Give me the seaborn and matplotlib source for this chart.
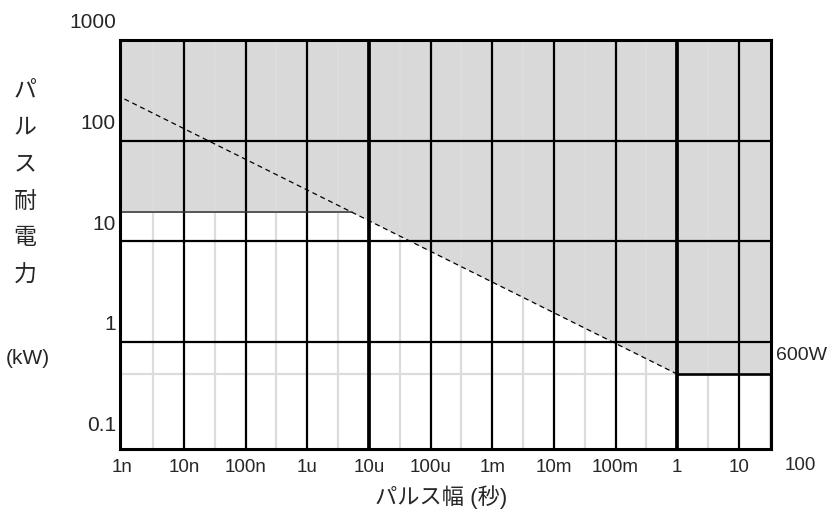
"""
Pulse power rating chart: pulse width vs. withstand power, log-log.
"""

import matplotlib.pyplot as plt
import matplotlib.transforms as mtransforms
import numpy as np
import seaborn as sns

# x axis: pulse width decades (s)
width_ticks = [1e-9, 1e-8, 1e-7, 1e-6, 1e-5, 1e-4, 1e-3, 1e-2, 1e-1, 1, 10]
width_labels = ["1n", "10n", "100n", "1u", "10u", "100u", "1m", "10m", "100m", "1", "10"]
width_extra = 100
width_extra_label = "100"
width_halfdecades = [10 ** (k + 0.5) for k in range(-9, 2)]
width_heavy = [1e-5, 1]

# y axis: pulse power (kW)
power_ticks = [0.1, 1, 10, 100, 1000]
power_labels = ["0.1", "1", "10", "100", "1000"]
power_grid = [1, 10, 100]

# rated pulse power line (dashed) and limits
line_width = [1.09e-9, 1.0]
line_power = [259, 0.477]
short_pulse_limit = 19.3
long_pulse_limit = 0.477
long_pulse_label = "600W"
fill_start = 9e-10

ylabel_chars = ["パ", "ル", "ス", "耐", "電", "力"]
ylabel_unit = "(kW)"
xlabel_text = "パルス幅 (秒)"

sns.set_style("white")
plt.rcParams['font.family'] = ['Liberation Sans', 'Noto Sans CJK JP']

fig = plt.figure(figsize=(8.28, 5.13), dpi=100)
ax = fig.add_axes([120 / 828, 1 - 449 / 513, 651 / 828, 409 / 513])
ax.set_xscale('log')
ax.set_yscale('log')
xmin, xmax = 10 ** -9.035, 10 ** 1.52
ax.set_xlim(xmin, xmax)
ax.set_ylim(0.086, 1000)

# gray (over-rated) region above the safe operating boundary
lx = np.log10(line_width)
ly = np.log10(line_power)
slope = (ly[1] - ly[0]) / (lx[1] - lx[0])
x_cross = 10 ** (lx[0] + (np.log10(short_pulse_limit) - ly[0]) / slope)
safe_x = [fill_start, x_cross, line_width[1], line_width[1], xmax]
safe_y = [short_pulse_limit, short_pulse_limit, long_pulse_limit, long_pulse_limit, long_pulse_limit]
ax.fill_between(safe_x, safe_y, 1000, color='#d9d9d9', lw=0, zorder=0.5)

# grid lines
for x in width_halfdecades:
    ax.axvline(x, color='#dcdcdc', lw=1.6, zorder=1)
ax.plot([xmin, 1], [long_pulse_limit, long_pulse_limit], color='#dcdcdc', lw=1.6, zorder=1)
for x in width_ticks[1:]:
    ax.axvline(x, color='black', lw=2.7 if x in width_heavy else 1.6, zorder=2)
for y in power_grid:
    ax.axhline(y, color='black', lw=1.6, zorder=2)

# limits
ax.plot([fill_start, x_cross], [short_pulse_limit, short_pulse_limit], color='#333333', lw=1.1, zorder=2.5)
ax.plot([1, xmax], [long_pulse_limit, long_pulse_limit], color='black', lw=1.9, zorder=2.5)
sns.lineplot(x=line_width, y=line_power, ax=ax, color='black', lw=0.9,
             linestyle=(0, (4, 3)), zorder=3)

for side in ax.spines.values():
    side.set_color('black')
    side.set_linewidth(2.2)
    side.set_zorder(4)

# tick labels (power labels sit slightly above their grid lines)
ax.set_xticks(width_ticks)
ax.set_xticklabels(width_labels, fontsize=13.5)
ax.set_yticks(power_ticks)
ax.set_yticklabels(power_labels, fontsize=15)
ax.minorticks_off()
ax.tick_params(axis='x', length=0, pad=7)
ax.tick_params(axis='y', length=0, pad=3)
up = mtransforms.ScaledTranslation(0, 19 / 100, fig.dpi_scale_trans)
for lab in ax.get_yticklabels():
    lab.set_transform(lab.get_transform() + up)

ax.text(width_extra, -0.0185, width_extra_label, fontsize=13.5, ha='center', va='top',
        transform=ax.get_xaxis_transform(), clip_on=False)
ax.text(1.008, long_pulse_limit, long_pulse_label, fontsize=14, ha='left', va='center',
        transform=ax.get_yaxis_transform() + up, clip_on=False)

# axis titles
for i, ch in enumerate(ylabel_chars):
    fig.text(25 / 828, 1 - (90 + 37 * i) / 513, ch, fontsize=16.5, ha='center', va='center')
fig.text(28 / 828, 1 - 358 / 513, ylabel_unit, fontsize=15, ha='center', va='center')
fig.text(441 / 828, 1 - 497 / 513, xlabel_text, fontsize=16, ha='center', va='center')

fig.savefig('out.png', dpi=100)
